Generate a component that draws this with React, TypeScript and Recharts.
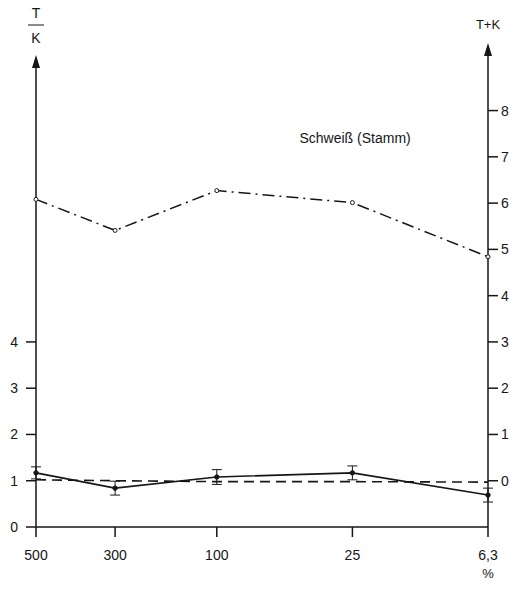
import {
  ComposedChart,
  Line,
  XAxis,
  YAxis,
  ErrorBar,
  ReferenceDot,
} from "recharts";

// concentration steps (%), in the order they appear on the x axis
const categories = ["500", "300", "100", "25", "6,3"];
// where each step sits along the (unevenly spaced) x axis, in axis units 0..10
const axisPos = [0, 1.75, 4, 7, 10];

// T/K ratio (solid, left axis) with error
const ratio = [1.17, 0.84, 1.08, 1.17, 0.69];
const ratioErr = [0.13, 0.15, 0.16, 0.15, 0.15];
// reference level (dashed, left axis)
const control = [1.02, 1.0, 0.98, 0.98, 0.97];
// T+K (dash-dot, right axis)
const sum = [6.08, 5.41, 6.27, 6.01, 4.84];

const leftTicks = [0, 1, 2, 3, 4];
const rightTicks = [0, 1, 2, 3, 4, 5, 6, 7, 8];

const data = categories.map((c, i) => ({
  cat: c,
  pos: axisPos[i],
  ratio: ratio[i],
  ratioErr: ratioErr[i],
  control: control[i],
  sum: sum[i],
}));

const INK = "#161616";
const FONT = "'Liberation Sans', 'DejaVu Sans', sans-serif";

function LeftAxisHead(props: any) {
  const vb = props.viewBox;
  const x = vb.x + vb.width;
  const y = vb.y;
  return (
    <g>
      <polygon points={`${x - 4},${y} ${x + 4},${y} ${x},${y - 13}`} fill={INK} />
      <text x={x} y={y - 50} textAnchor="middle" fontSize={14} fill={INK} fontFamily={FONT}>
        T
      </text>
      <line x1={x - 8} x2={x + 8} y1={y - 43} y2={y - 43} stroke={INK} strokeWidth={1} />
      <text x={x} y={y - 25} textAnchor="middle" fontSize={14} fill={INK} fontFamily={FONT}>
        K
      </text>
    </g>
  );
}

// arrow + "T+K" on top of the right axis, unit "%" under its foot
function RightAxisHead(props: any) {
  const vb = props.viewBox;
  const x = vb.x;
  const y = vb.y;
  return (
    <g>
      <line x1={x} x2={x} y1={y} y2={y - 12} stroke={INK} strokeWidth={1.5} />
      <polygon points={`${x - 4},${y - 12} ${x + 4},${y - 12} ${x},${y - 25}`} fill={INK} />
      <text x={x} y={y - 39} textAnchor="middle" fontSize={13} fill={INK} fontFamily={FONT}>
        T+K
      </text>
      <text
        x={x}
        y={y + vb.height + 51}
        textAnchor="middle"
        fontSize={13}
        style={{ fill: INK }}
        fontFamily={FONT}
      >
        %
      </text>
    </g>
  );
}

export default function App() {
  const tickStyle = { fontSize: 14, fill: INK, fontFamily: FONT };
  return (
    <div style={{ position: "absolute", left: 0, top: 0, background: "#fff", fontFamily: FONT }}>
      <ComposedChart
        width={516}
        height={590}
        data={data}
        margin={{ top: 68, right: 0, bottom: 0, left: 0 }}
      >
        <XAxis
          dataKey="pos"
          type="number"
          domain={[0, 10]}
          ticks={axisPos}
          tickFormatter={(v: number) => categories[axisPos.indexOf(v)] ?? ""}
          height={63}
          tickSize={10}
          tickMargin={13}
          tick={tickStyle}
          stroke={INK}
          strokeWidth={1.5}
          interval={0}
        />
        <YAxis
          yAxisId="left"
          width={36}
          domain={[0, 9.92]}
          ticks={leftTicks}
          allowDataOverflow
          tickSize={10}
          tickMargin={8}
          tick={tickStyle}
          stroke={INK}
          strokeWidth={1.5}
          interval={0}
          label={{ content: LeftAxisHead }}
        />
        <YAxis
          yAxisId="right"
          orientation="right"
          width={28}
          domain={[-1, 8.92]}
          ticks={rightTicks}
          allowDataOverflow
          tickSize={10}
          tickMargin={3}
          tick={tickStyle}
          stroke={INK}
          strokeWidth={1.5}
          interval={0}
          label={{ content: RightAxisHead }}
        />
        <Line
          yAxisId="left"
          dataKey="control"
          stroke={INK}
          strokeWidth={1.6}
          strokeDasharray="10 6"
          dot={false}
          isAnimationActive={false}
        />
        <Line
          yAxisId="left"
          dataKey="ratio"
          stroke={INK}
          strokeWidth={1.6}
          dot={{ r: 2.2, fill: INK, stroke: INK, strokeWidth: 1 }}
          isAnimationActive={false}
        >
          <ErrorBar dataKey="ratioErr" width={5} stroke={INK} strokeWidth={1} direction="y" />
        </Line>
        <Line
          yAxisId="right"
          dataKey="sum"
          stroke={INK}
          strokeWidth={1.5}
          strokeDasharray="12 5 2 5"
          dot={{ r: 2, fill: "#fff", stroke: INK, strokeWidth: 1 }}
          isAnimationActive={false}
        />
        <ReferenceDot
          yAxisId="right"
          x={7.06}
          y={7.4}
          r={0}
          fill="none"
          stroke="none"
          label={{ value: "Schweiß (Stamm)", position: "center", fontSize: 14, fill: INK, fontFamily: FONT }}
        />
      </ComposedChart>
    </div>
  );
}
